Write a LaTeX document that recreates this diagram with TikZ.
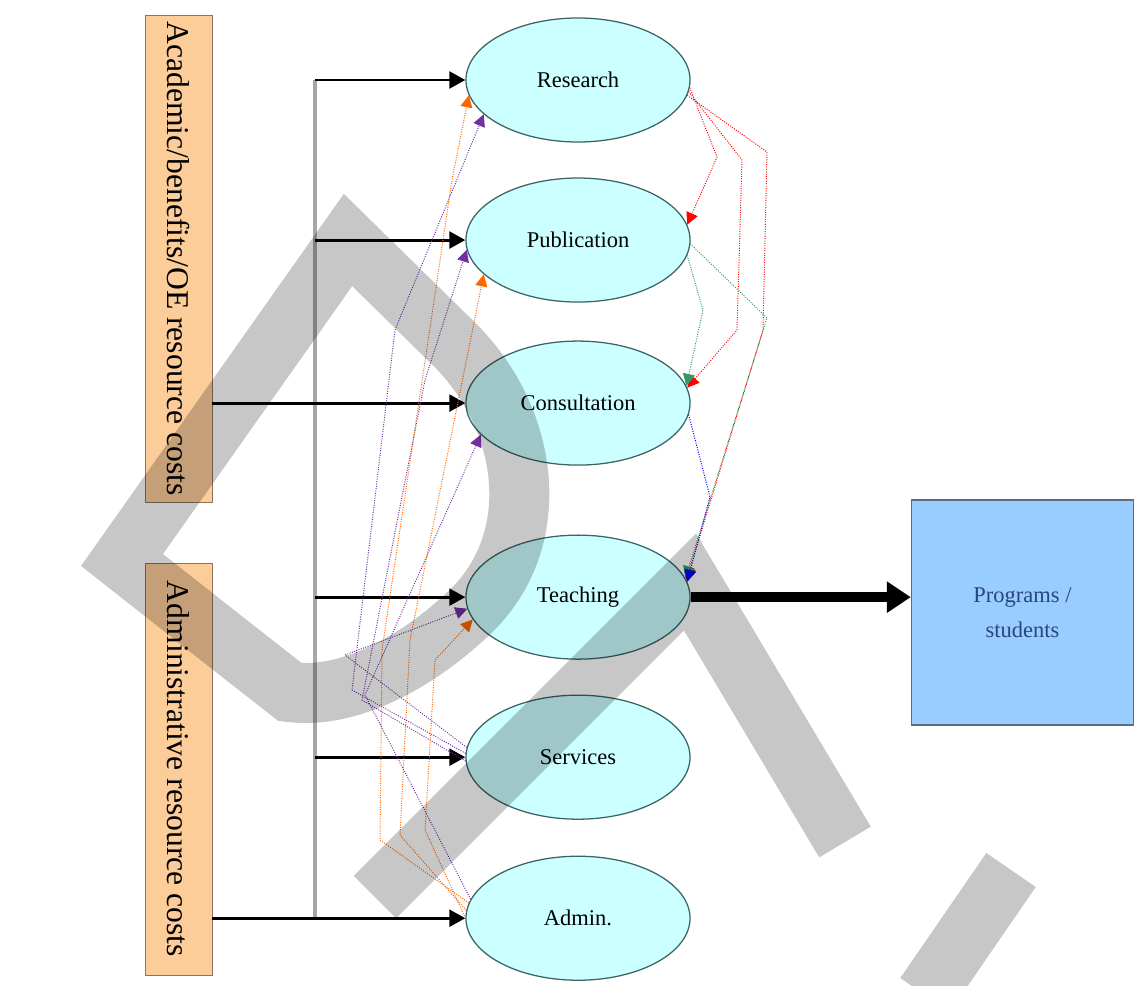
\documentclass[tikz,border=0pt]{standalone}
\usepackage{fontspec}
\setmainfont{Liberation Serif}
\usetikzlibrary{arrows.meta,shapes.geometric,positioning}

\definecolor{costfill}{RGB}{252,204,153}
\definecolor{costline}{RGB}{140,115,95}
\definecolor{actfill}{RGB}{204,255,255}
\definecolor{actline}{RGB}{60,100,100}
\definecolor{progfill}{RGB}{153,204,255}
\definecolor{progline}{RGB}{90,110,130}
\definecolor{progtext}{RGB}{40,70,120}
\definecolor{svcpurple}{RGB}{112,48,160}
\definecolor{admorange}{RGB}{255,102,0}
\definecolor{fromred}{RGB}{255,0,0}
\definecolor{fromgreen}{RGB}{51,153,102}
\definecolor{fromblue}{RGB}{0,0,255}

\tikzset{
    costbox/.style={
           rectangle,
           draw=costline,
           fill=costfill,
           minimum width=1.675cm,
           inner sep=2pt,
           text centered,
           font=\fontsize{22.5}{24}\selectfont,
           },
    activity/.style={
           ellipse,
           draw=actline,
           line width=0.9pt,
           fill=actfill,
           minimum width=5.6cm,
           minimum height=3.1cm,
           inner sep=0pt,
           font=\fontsize{16}{18}\selectfont,
           },
    output/.style={
           rectangle,
           draw=progline,
           line width=1pt,
           fill=progfill,
           minimum width=5.55cm,
           minimum height=5.625cm,
           text=progtext,
           align=center,
           font=\fontsize{16}{25}\selectfont,
           },
    feed/.style={line width=2.1pt, -{Triangle[length=0.4cm,width=0.42cm]}},
    bus/.style={line width=2.5pt, draw=black!35},
    share/.style={densely dotted, line width=0.7pt, -{Triangle[length=0.3cm,width=0.3cm]}},
    watermark/.style={line width=1.5cm, draw=black, draw opacity=0.22, line join=miter},
}

\begin{document}
\begin{tikzpicture}[x=0.025cm,y=-0.025cm]
 \useasboundingbox (0,0) rectangle (1136,985);

 % cost pools
 \node[costbox, minimum height=12.175cm] (ACADEMIC) at (178.5,258.5)
   {\rotatebox{-90}{Academic/benefits/OE resource costs}};
 \node[costbox, minimum height=10.3cm] (ADMINRES) at (178.5,769)
   {\rotatebox{-90}{Administrative resource costs}};

 % activities
 \node[activity] (RESEARCH) at (578,80) {Research};
 \node[activity, node distance=4cm, below of=RESEARCH] (PUBLICATION) {Publication};
 \node[activity, node distance=4.075cm, below of=PUBLICATION] (CONSULTATION) {Consultation};
 \node[activity, node distance=4.85cm, below of=CONSULTATION] (TEACHING) {Teaching};
 \node[activity, node distance=4cm, below of=TEACHING] (SERVICES) {Services};
 \node[activity, node distance=4.025cm, below of=SERVICES] (ADMIN) {Admin.};

 \node[output] (PROGRAMS) at (1022.5,612.5) {Programs /\\ students};

 % resource flows
 \coordinate (BUS) at (315,0);
 \draw[bus] (BUS |- RESEARCH) -- (BUS |- ADMIN);
 \path[feed]
   (BUS |- RESEARCH) edge (RESEARCH)
   (BUS |- PUBLICATION) edge (PUBLICATION)
   (ACADEMIC.east |- CONSULTATION) edge (CONSULTATION)
   (BUS |- TEACHING) edge (TEACHING)
   (BUS |- SERVICES) edge (SERVICES)
   (ADMINRES.east |- ADMIN) edge (ADMIN);
 \draw[line width=7pt, -{Triangle[length=0.6cm,width=0.75cm]}]
   (TEACHING.east) -- (TEACHING.east -| PROGRAMS.west);

 % shared activities, right side
 \draw[share, fromred] (RESEARCH.356) -- (717,157) -- (PUBLICATION.8);
 \draw[share, fromred] (RESEARCH.354) -- (742,160) -- (737,330) -- (CONSULTATION.8);
 \draw[share, fromred] (RESEARCH.352) -- (767,152) -- (763,330) -- (TEACHING.9);
 \draw[share, fromgreen] (PUBLICATION.352) -- (703,310) -- (CONSULTATION.9);
 \draw[share, fromgreen] (PUBLICATION.358) -- (767,318) -- (TEACHING.10);
 \draw[share, fromblue] (CONSULTATION.354) -- (710,497) -- (TEACHING.8);

 % shared activities, left side
 \draw[share, svcpurple] (SERVICES.178) -- (352,690) -- (395,330) -- (RESEARCH.200);
 \draw[share, svcpurple] (SERVICES.182) -- (362,700) -- (425,380) -- (PUBLICATION.185);
 \draw[share, svcpurple] (SERVICES.175) -- (345,655) -- (TEACHING.186);
 \draw[share, svcpurple] (ADMIN.170) -- (365,695) -- (CONSULTATION.198);
 \draw[share, admorange] (ADMIN.172) -- (380,840) -- (382,650) -- (452,180) -- (RESEARCH.188);
 \draw[share, admorange] (ADMIN.176) -- (400,835) -- (410,640) -- (PUBLICATION.200);
 \draw[share, admorange] (ADMIN.180) -- (425,830) -- (435,660) -- (TEACHING.192);

 % watermark
 \draw[watermark] (348,240) -- (455,345) .. controls (530,420) and (545,540) .. (470,612)
   .. controls (420,660) and (350,700) .. (290,692) -- (230,645) -- (122,560) -- cycle;
 \draw[watermark] (375,897) -- (690,582) -- (845,842);
 \draw[watermark] (1011,870) -- (925,995);
\end{tikzpicture}
\end{document}
